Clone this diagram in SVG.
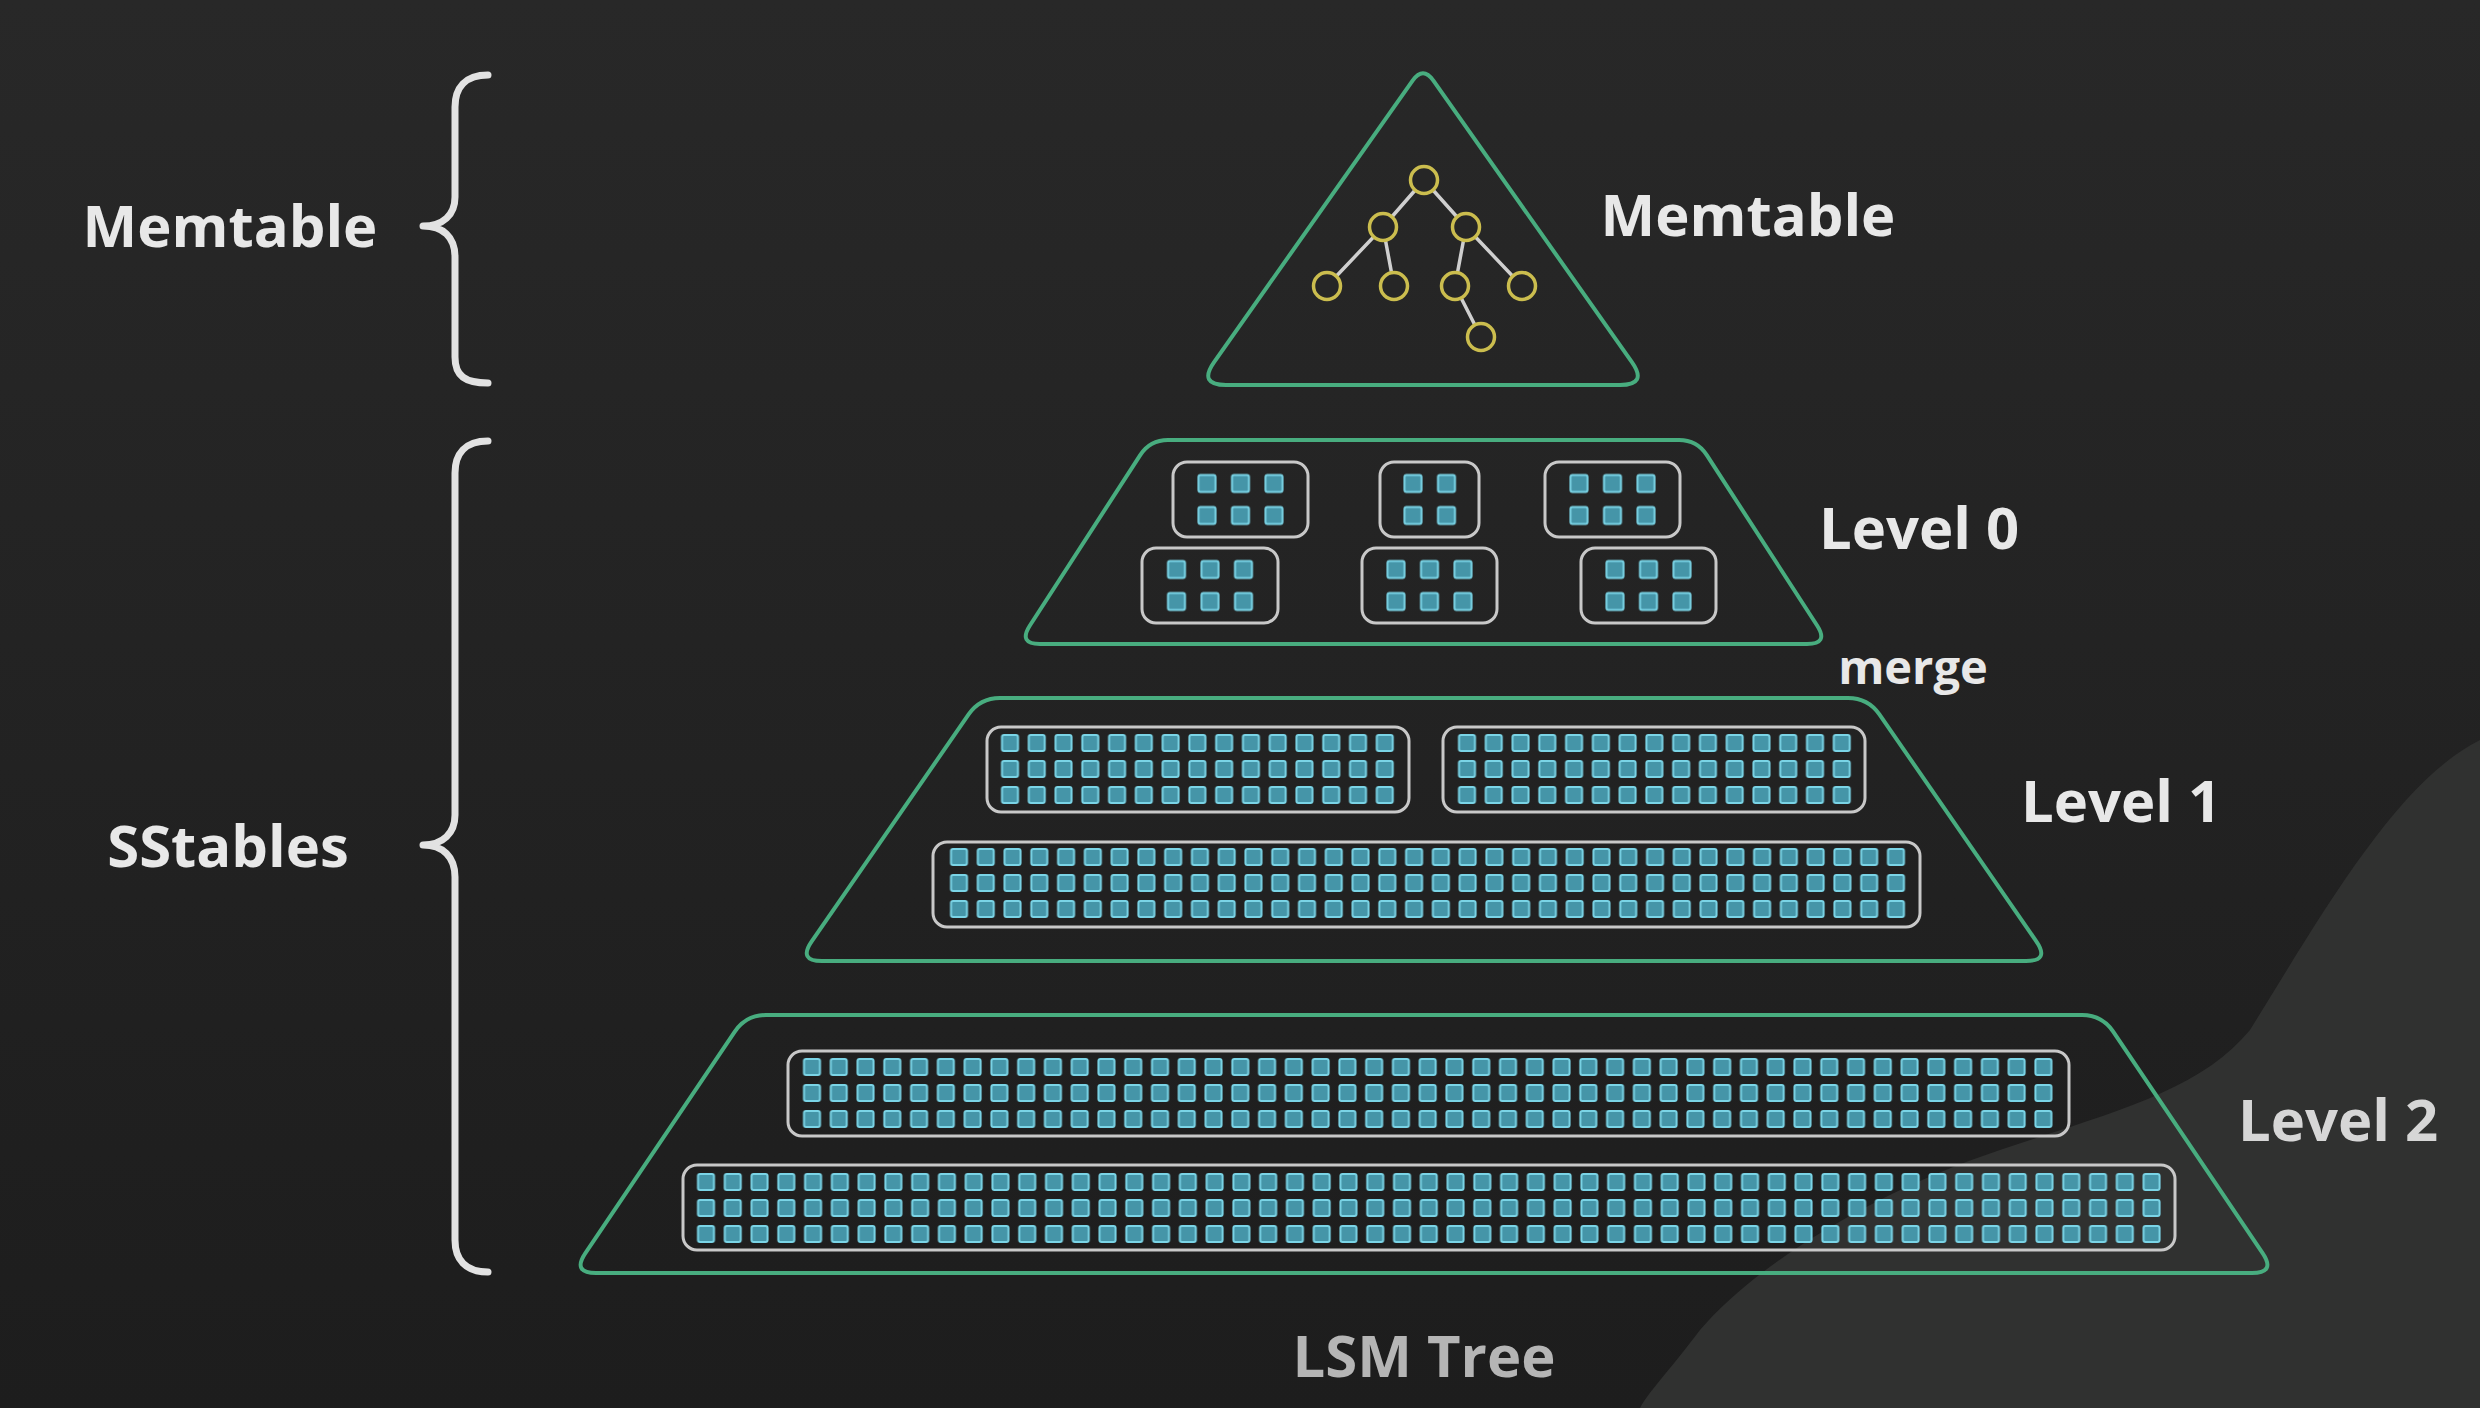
<svg xmlns="http://www.w3.org/2000/svg" width="2480" height="1408" viewBox="0 0 2480 1408">
  <style>
    .lvl { fill: none; stroke: #48ad7f; stroke-width: 4; stroke-linejoin: round; }
    .sst { fill: none; stroke: #c8c8c8; stroke-width: 3; }
    .cell { fill: #4595a8; stroke: #7ad4e6; stroke-width: 2; }
    .brace { fill: none; stroke: #e2e2e2; stroke-width: 7; stroke-linecap: round; stroke-linejoin: round; }
    .lbl { font-family: "Open Sans", "Liberation Sans", sans-serif; font-weight: 700; font-size: 58px; fill: #e8e8e8; text-anchor: middle; }
    .edge { stroke: #cfcfcf; stroke-width: 3.5; stroke-linecap: round; }
    .tnode { fill: #262626; stroke: #cbbd4e; stroke-width: 3.5; }
  </style>
  <defs>
    <linearGradient id="bg" x1="0" y1="0" x2="0" y2="1">
      <stop offset="0" stop-color="#282828"/>
      <stop offset="1" stop-color="#1d1d1d"/>
    </linearGradient>
    <pattern id="cells" patternUnits="userSpaceOnUse" width="26.77" height="26">
      <rect class="cell" x="5.385" y="5" width="16" height="16" rx="2"/>
    </pattern>
    <pattern id="cells0" patternUnits="userSpaceOnUse" width="33.5" height="32">
      <rect class="cell" x="8.25" y="7.5" width="17" height="17" rx="2"/>
    </pattern>
  </defs>

  <rect x="0" y="0" width="2480" height="1408" fill="url(#bg)"/>
  <path d="M 2480 740 C 2400 780 2330 900 2250 1030 C 2200 1090 2120 1110 2000 1150 C 1880 1190 1760 1260 1700 1330 C 1670 1370 1650 1390 1640 1408 L 2480 1408 Z" fill="#303130"/>

  <g id="braces">
    <path class="brace" d="M 488 75 C 465 75 455 88 455 107 L 455 197 C 455 215 443 226 423 226 C 443 226 455 237 455 257 L 455 357 C 455 376 465 383 488 383"/>
    <path class="brace" d="M 488 441 C 465 441 455 454 455 473 L 455 815 C 455 833 443 845 423 845 C 443 845 455 857 455 877 L 455 1240 C 455 1259 465 1272 488 1272"/>
  </g>

  <g id="labels">
    <text class="lbl" x="230" y="247">Memtable</text>
    <text class="lbl" x="228" y="867">SStables</text>
    <text class="lbl" x="1748" y="236">Memtable</text>
    <text class="lbl" x="1919" y="549">Level 0</text>
    <text class="lbl" x="1913" y="684" style="font-size:47px">merge</text>
    <text class="lbl" x="2121" y="822">Level 1</text>
    <text class="lbl" x="2338" y="1141" style="fill:#d6d6d6">Level 2</text>
    <text class="lbl" x="1424" y="1377" style="fill:#b5b5b5">LSM Tree</text>
  </g>

  <g id="memtable">
    <path class="lvl" d="M 1412.6 80.7 Q 1423 66 1433.4 80.7 L 1631.9 362.1 Q 1648 385 1620 385 L 1226 385 Q 1198 385 1214.1 362.1 Z"/>
  </g>

  <g id="connectors">
    <line class="edge" x1="1424" y1="180" x2="1383" y2="227"/>
    <line class="edge" x1="1424" y1="180" x2="1466" y2="227"/>
    <line class="edge" x1="1383" y1="227" x2="1327" y2="286"/>
    <line class="edge" x1="1383" y1="227" x2="1394" y2="286"/>
    <line class="edge" x1="1466" y1="227" x2="1455" y2="286"/>
    <line class="edge" x1="1466" y1="227" x2="1522" y2="286"/>
    <line class="edge" x1="1455" y1="286" x2="1481" y2="337"/>
  </g>

  <g id="memtable-tree">
    <circle class="tnode" cx="1424" cy="180" r="13.5"/>
    <circle class="tnode" cx="1383" cy="227" r="13.5"/>
    <circle class="tnode" cx="1466" cy="227" r="13.5"/>
    <circle class="tnode" cx="1327" cy="286" r="13.5"/>
    <circle class="tnode" cx="1394" cy="286" r="13.5"/>
    <circle class="tnode" cx="1455" cy="286" r="13.5"/>
    <circle class="tnode" cx="1522" cy="286" r="13.5"/>
    <circle class="tnode" cx="1481" cy="337" r="13.5"/>
  </g>

  <g id="level0">
    <path class="lvl" d="M 1168 440 L 1679 440 Q 1697 440 1706.8 455.1 L 1817.1 625.5 Q 1829 644 1807 644 L 1040 644 Q 1018 644 1029.9 625.5 L 1140.2 455.1 Q 1150 440 1168 440 Z"/>
    <rect class="sst" x="1173" y="462" width="135" height="75" rx="14"/>
    <rect class="sst" x="1380" y="462" width="99" height="75" rx="14"/>
    <rect class="sst" x="1545" y="462" width="135" height="75" rx="14"/>
    <rect class="sst" x="1142" y="548" width="136" height="75" rx="14"/>
    <rect class="sst" x="1362" y="548" width="135" height="75" rx="14"/>
    <rect class="sst" x="1581" y="548" width="135" height="75" rx="14"/>
    <g transform="translate(1190.25 467.5)"><rect width="100.5" height="64" fill="url(#cells0)"/></g>
    <g transform="translate(1396.25 467.5)"><rect width="67" height="64" fill="url(#cells0)"/></g>
    <g transform="translate(1562.25 467.5)"><rect width="100.5" height="64" fill="url(#cells0)"/></g>
    <g transform="translate(1159.75 553.5)"><rect width="100.5" height="64" fill="url(#cells0)"/></g>
    <g transform="translate(1379.25 553.5)"><rect width="100.5" height="64" fill="url(#cells0)"/></g>
    <g transform="translate(1598.25 553.5)"><rect width="100.5" height="64" fill="url(#cells0)"/></g>
  </g>

  <g id="level1">
    <path class="lvl" d="M 1000 698 L 1848 698 Q 1868 698 1879.4 714.4 L 2036.3 941.3 Q 2050 961 2026 961 L 822 961 Q 798 961 811.7 941.3 L 968.6 714.4 Q 980 698 1000 698 Z"/>
    <rect class="sst" x="987" y="727" width="422" height="85" rx="14"/>
    <rect class="sst" x="1443" y="727" width="422" height="85" rx="14"/>
    <rect class="sst" x="933" y="842" width="987" height="85" rx="14"/>
    <g transform="translate(996.615 730)"><rect width="401.55" height="78" fill="url(#cells)"/></g>
    <g transform="translate(1453.615 730)"><rect width="401.55" height="78" fill="url(#cells)"/></g>
    <g transform="translate(945.615 844)"><rect width="963.72" height="78" fill="url(#cells)"/></g>
  </g>

  <g id="level2">
    <path class="lvl" d="M 766 1015 L 2082 1015 Q 2102 1015 2113.2 1031.6 L 2262.6 1253.1 Q 2276 1273 2252 1273 L 596 1273 Q 572 1273 585.4 1253.1 L 734.8 1031.6 Q 746 1015 766 1015 Z"/>
    <rect class="sst" x="788" y="1051" width="1281" height="85" rx="14"/>
    <rect class="sst" x="683" y="1165" width="1492" height="85" rx="14"/>
    <g transform="translate(798.615 1054)"><rect width="1258.19" height="78" fill="url(#cells)"/></g>
    <g transform="translate(692.615 1169)"><rect width="1472.35" height="78" fill="url(#cells)"/></g>
  </g>
</svg>
